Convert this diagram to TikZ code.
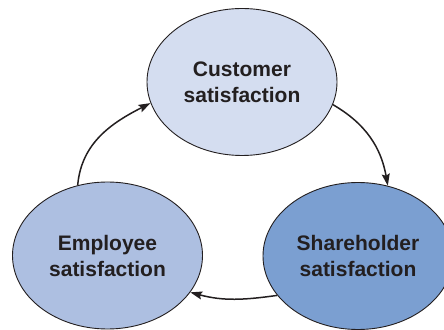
\documentclass[tikz,border=0pt]{standalone}
\usepackage{fontspec}
\setmainfont{Liberation Sans}
\usepackage{xcolor}
\usepackage{tikz}
\usetikzlibrary{arrows.meta,shapes.geometric}

\definecolor{custfill}{HTML}{D4DDF0}
\definecolor{empfill}{HTML}{ADBFE1}
\definecolor{sharefill}{HTML}{7B9FD1}
\definecolor{inkdark}{HTML}{231F20}

\begin{document}
\begin{tikzpicture}[x=1pt, y=1pt,
  bubble/.style={ellipse, draw=inkdark, line width=0.9pt, minimum width=190pt, minimum height=147pt,
    inner sep=0pt, align=center, text=inkdark,
    font=\fontsize{21}{26}\selectfont\bfseries},
  cyclearrow/.style={-{Stealth[length=12pt, width=8pt, inset=2pt]}, line width=1.5pt, draw=inkdark}]
\useasboundingbox (0,0) rectangle (444,329);
\node[bubble, fill=custfill] (cust) at (242,247) {Customer\\satisfaction};
\node[bubble, fill=empfill] (emp) at (107.5,73.5) {Employee\\satisfaction};
\node[bubble, fill=sharefill] (share) at (358,73) {Shareholder\\satisfaction};
\draw[cyclearrow] (emp.113) to[out=85, in=207] (cust.193);
\draw[cyclearrow] (cust.-14) to[out=-30, in=100] (share.67);
\draw[cyclearrow] (share.206) to[out=188, in=-15] (emp.-24);
\end{tikzpicture}
\end{document}
